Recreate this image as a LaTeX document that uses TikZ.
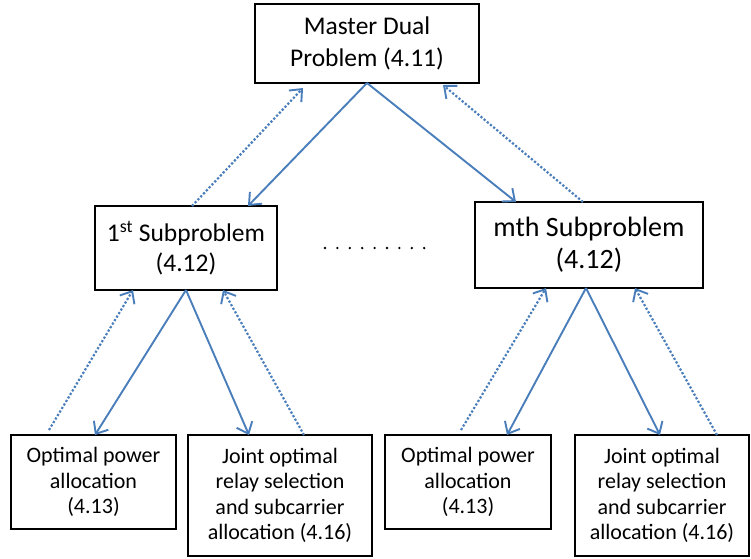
\documentclass[tikz,border=0pt]{standalone}
\usepackage{fontspec}
\setmainfont{Carlito}
\usetikzlibrary{arrows.meta}
\definecolor{arrowblue}{RGB}{74,126,187}
\tikzset{
  box/.style={draw=black, line width=1.4pt, inner sep=0pt, outer sep=0pt, align=center, text=black},
  solidarrow/.style={draw=arrowblue, line width=1.9pt, -{Straight Barb[length=10pt,width=17pt]}},
  dotarrow/.style={draw=arrowblue, line width=2.2pt, dash pattern=on 2.2pt off 1.9pt, -{Straight Barb[length=10pt,width=17pt,line width=1.9pt]}},
  bigtext/.style={font=\fontsize{25.5}{32.5}\selectfont},
  subtext/.style={font=\fontsize{25.5}{30}\selectfont},
  subtextm/.style={font=\fontsize{28}{32}\selectfont},
  smalltext/.style={font=\fontsize{22}{25.5}\selectfont}
}
\begin{document}
\begin{tikzpicture}[x=1pt,y=-1pt]
\useasboundingbox (0,0) rectangle (751,558);
\node[box,bigtext,minimum width=224pt,minimum height=79pt] (master) at (367,43.5) {Master Dual\\Problem (4.11)};
\node[box,subtext,minimum width=182pt,minimum height=84pt] (sub1) at (186,248) {1\textsuperscript{st} Subproblem\\(4.12)};
\node[box,subtextm,minimum width=228pt,minimum height=86pt] (subm) at (589,245) {mth Subproblem\\(4.12)};
\node[box,smalltext,minimum width=165pt,minimum height=94pt] (b1) at (93.5,482) {Optimal power\\allocation\\(4.13)};
\node[box,smalltext,minimum width=184pt,minimum height=121pt] (b2) at (280,495.5) {Joint optimal\\relay selection\\and subcarrier\\allocation (4.16)};
\node[box,smalltext,minimum width=166pt,minimum height=94pt] (b3) at (468,482) {Optimal power\\allocation\\(4.13)};
\node[box,smalltext,minimum width=174pt,minimum height=121pt] (b4) at (662,495.5) {Joint optimal\\relay selection\\and subcarrier\\allocation (4.16)};
% master <-> subproblems
\draw[solidarrow] (master.south) -- ([xshift=62pt]sub1.north);
\draw[solidarrow] (master.south) -- ([xshift=-73pt]subm.north);
\draw[dotarrow] ([xshift=6pt]sub1.north) -- ([xshift=-64pt,yshift=-5pt]master.south);
\draw[dotarrow] ([xshift=-6pt]subm.north) -- ([xshift=76pt,yshift=-2pt]master.south);
% sub1 <-> boxes
\draw[solidarrow] (sub1.south) -- ([xshift=1.5pt]b1.north);
\draw[solidarrow] (sub1.south) -- ([xshift=-31pt]b2.north);
\draw[dotarrow] ([xshift=-44.5pt,yshift=5pt]b1.north) -- ([xshift=-53pt]sub1.south);
\draw[dotarrow] ([xshift=24pt]b2.north) -- ([xshift=37pt]sub1.south);
% subm <-> boxes
\draw[solidarrow] ([xshift=-3pt]subm.south) -- ([xshift=39pt]b3.north);
\draw[solidarrow] ([xshift=-3pt]subm.south) -- ([xshift=-2pt]b4.north);
\draw[dotarrow] ([xshift=-7pt,yshift=5pt]b3.north) -- ([xshift=-43pt]subm.south);
\draw[dotarrow] ([xshift=55pt]b4.north) -- ([xshift=46pt]subm.south);
% ellipsis dots
\foreach \i in {0,...,8} \fill[black] (325+\i*12.4,248) circle (1.3pt);
\end{tikzpicture}
\end{document}
